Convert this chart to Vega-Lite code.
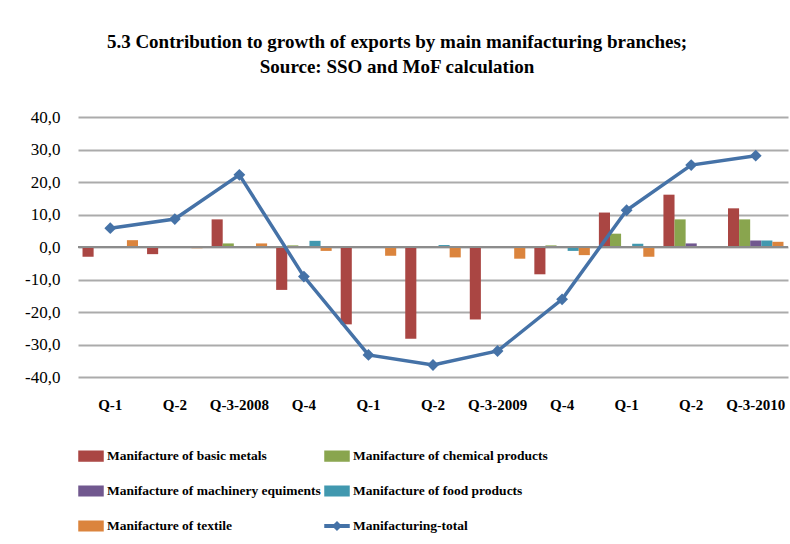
{
  "$schema": "https://vega.github.io/schema/vega-lite/v6.json",
  "autosize": "none",
  "padding": {"left": 78, "top": 117, "right": 2, "bottom": 167},
  "width": 710,
  "height": 260,
  "background": "white",
  "title": {
    "text": ["5.3 Contribution  to growth of exports by  main  manifacturing  branches;", "Source: SSO and MoF calculation"],
    "font": "Liberation Serif",
    "fontSize": 19,
    "fontWeight": "bold",
    "color": "black",
    "lineHeight": 25,
    "anchor": "middle",
    "frame": "group",
    "dx": -36,
    "offset": 31
  },
  "datasets": {
    "bars": [
      {"period": "Q-1|2008", "series": "Manifacture of basic metals", "value": -3.0},
      {"period": "Q-2|2008", "series": "Manifacture of basic metals", "value": -2.2},
      {"period": "Q-3-2008|2008", "series": "Manifacture of basic metals", "value": 8.5},
      {"period": "Q-4|2008", "series": "Manifacture of basic metals", "value": -13.2},
      {"period": "Q-1|2009", "series": "Manifacture of basic metals", "value": -23.8},
      {"period": "Q-2|2009", "series": "Manifacture of basic metals", "value": -28.2},
      {"period": "Q-3-2009|2009", "series": "Manifacture of basic metals", "value": -22.3},
      {"period": "Q-4|2009", "series": "Manifacture of basic metals", "value": -8.4},
      {"period": "Q-1|2010", "series": "Manifacture of basic metals", "value": 10.6},
      {"period": "Q-2|2010", "series": "Manifacture of basic metals", "value": 16.1},
      {"period": "Q-3-2010|2010", "series": "Manifacture of basic metals", "value": 11.9},
      {"period": "Q-1|2008", "series": "Manifacture of chemical products", "value": 0.0},
      {"period": "Q-2|2008", "series": "Manifacture of chemical products", "value": 0.0},
      {"period": "Q-3-2008|2008", "series": "Manifacture of chemical products", "value": 1.1},
      {"period": "Q-4|2008", "series": "Manifacture of chemical products", "value": 0.5},
      {"period": "Q-1|2009", "series": "Manifacture of chemical products", "value": -0.3},
      {"period": "Q-2|2009", "series": "Manifacture of chemical products", "value": -0.3},
      {"period": "Q-3-2009|2009", "series": "Manifacture of chemical products", "value": -0.3},
      {"period": "Q-4|2009", "series": "Manifacture of chemical products", "value": 0.5},
      {"period": "Q-1|2010", "series": "Manifacture of chemical products", "value": 4.1},
      {"period": "Q-2|2010", "series": "Manifacture of chemical products", "value": 8.5},
      {"period": "Q-3-2010|2010", "series": "Manifacture of chemical products", "value": 8.5},
      {"period": "Q-1|2008", "series": "Manifacture of machinery equiments", "value": 0.0},
      {"period": "Q-2|2008", "series": "Manifacture of machinery equiments", "value": -0.3},
      {"period": "Q-3-2008|2008", "series": "Manifacture of machinery equiments", "value": -0.3},
      {"period": "Q-4|2008", "series": "Manifacture of machinery equiments", "value": 0.1},
      {"period": "Q-1|2009", "series": "Manifacture of machinery equiments", "value": -0.3},
      {"period": "Q-2|2009", "series": "Manifacture of machinery equiments", "value": -0.2},
      {"period": "Q-3-2009|2009", "series": "Manifacture of machinery equiments", "value": -0.3},
      {"period": "Q-4|2009", "series": "Manifacture of machinery equiments", "value": -0.3},
      {"period": "Q-1|2010", "series": "Manifacture of machinery equiments", "value": -0.3},
      {"period": "Q-2|2010", "series": "Manifacture of machinery equiments", "value": 1.1},
      {"period": "Q-3-2010|2010", "series": "Manifacture of machinery equiments", "value": 2.0},
      {"period": "Q-1|2008", "series": "Manifacture of food products", "value": 0.0},
      {"period": "Q-2|2008", "series": "Manifacture of food products", "value": -0.3},
      {"period": "Q-3-2008|2008", "series": "Manifacture of food products", "value": 0.0},
      {"period": "Q-4|2008", "series": "Manifacture of food products", "value": 1.9},
      {"period": "Q-1|2009", "series": "Manifacture of food products", "value": -0.3},
      {"period": "Q-2|2009", "series": "Manifacture of food products", "value": 0.6},
      {"period": "Q-3-2009|2009", "series": "Manifacture of food products", "value": -0.3},
      {"period": "Q-4|2009", "series": "Manifacture of food products", "value": -1.2},
      {"period": "Q-1|2010", "series": "Manifacture of food products", "value": 1.0},
      {"period": "Q-2|2010", "series": "Manifacture of food products", "value": -0.3},
      {"period": "Q-3-2010|2010", "series": "Manifacture of food products", "value": 2.0},
      {"period": "Q-1|2008", "series": "Manifacture of textile", "value": 2.1},
      {"period": "Q-2|2008", "series": "Manifacture of textile", "value": -0.4},
      {"period": "Q-3-2008|2008", "series": "Manifacture of textile", "value": 1.1},
      {"period": "Q-4|2008", "series": "Manifacture of textile", "value": -1.2},
      {"period": "Q-1|2009", "series": "Manifacture of textile", "value": -2.7},
      {"period": "Q-2|2009", "series": "Manifacture of textile", "value": -3.2},
      {"period": "Q-3-2009|2009", "series": "Manifacture of textile", "value": -3.6},
      {"period": "Q-4|2009", "series": "Manifacture of textile", "value": -2.5},
      {"period": "Q-1|2010", "series": "Manifacture of textile", "value": -3.0},
      {"period": "Q-2|2010", "series": "Manifacture of textile", "value": 0.0},
      {"period": "Q-3-2010|2010", "series": "Manifacture of textile", "value": 1.6}
    ],
    "total": [
      {"period": "Q-1|2008", "value": 5.8},
      {"period": "Q-2|2008", "value": 8.6},
      {"period": "Q-3-2008|2008", "value": 22.2},
      {"period": "Q-4|2008", "value": -9.1},
      {"period": "Q-1|2009", "value": -33.2},
      {"period": "Q-2|2009", "value": -36.3},
      {"period": "Q-3-2009|2009", "value": -32.0},
      {"period": "Q-4|2009", "value": -16.1},
      {"period": "Q-1|2010", "value": 11.3},
      {"period": "Q-2|2010", "value": 25.2},
      {"period": "Q-3-2010|2010", "value": 28.1}
    ],
    "zero": [{"value": 0}]
  },
  "encoding": {
    "y": {
      "field": "value",
      "type": "quantitative",
      "scale": {"domain": [-40, 40], "nice": false},
      "axis": {
        "title": null,
        "values": [-40, -30, -20, -10, 0, 10, 20, 30, 40],
        "labelExpr": "(datum.value < 0 ? '-' : '') + replace(format(abs(datum.value), '.1f'), '.', ',')",
        "labelFont": "Liberation Serif",
        "labelFontSize": 17,
        "labelColor": "black",
        "labelPadding": 18,
        "labelOverlap": false,
        "ticks": false,
        "domain": false,
        "grid": true,
        "gridWidth": 2,
        "gridColor": "#ababab",
        "gridOpacity": 1
      }
    }
  },
  "layer": [
    {
      "data": {"name": "bars"},
      "mark": {"type": "bar"},
      "encoding": {
        "x": {
          "field": "period",
          "type": "nominal",
          "sort": null,
          "scale": {"paddingInner": 0.14, "paddingOuter": 0.07},
          "axis": {
            "title": null,
            "labelExpr": "split(datum.value, '|')[0]",
            "labelAngle": 0,
            "labelFont": "Liberation Serif",
            "labelFontSize": 15,
            "labelFontWeight": "bold",
            "labelColor": "black",
            "labelPadding": 20,
            "labelOverlap": false,
            "ticks": false,
            "domain": false,
            "grid": false
          }
        },
        "xOffset": {"field": "series", "type": "nominal", "sort": null,
          "scale": {"domain": ["Manifacture of basic metals", "Manifacture of chemical products", "Manifacture of machinery equiments", "Manifacture of food products", "Manifacture of textile"], "paddingInner": 0, "paddingOuter": 0}},
        "color": {
          "field": "series",
          "type": "nominal",
          "scale": {
            "domain": ["Manifacture of basic metals", "Manifacture of chemical products", "Manifacture of machinery equiments", "Manifacture of food products", "Manifacture of textile", "Manifacturing-total"],
            "range": ["#AA4643", "#89A54E", "#71588F", "#4198AF", "#DB843D", "#4572A7"]
          },
          "legend": {
            "orient": "none",
            "legendX": 0,
            "legendY": 326,
            "direction": "horizontal",
            "columns": 2,
            "title": null,
            "symbolSize": 576,
            "symbolType": "M-1,-0.4H1V0.4H-1Z",
            "labelFont": "Liberation Serif",
            "labelFontSize": 13.5,
            "labelFontWeight": "bold",
            "labelColor": "black",
            "labelOffset": 3,
            "labelLimit": 400,
            "rowPadding": 14,
            "columnPadding": 1,
            "encode": {
              "symbols": {
                "update": {
                  "shape": {"signal": "datum.value === 'Manifacturing-total' ? 'M-1,-0.1H1V0.1H-1Z M0,-0.33L0.33,0L0,0.33L-0.33,0Z' : 'M-1,-0.4H1V0.4H-1Z'"},
                  "fill": {"scale": "color", "field": "value"},
                  "stroke": {"value": "transparent"},
                  "opacity": {"value": 1}
                }
              }
            }
          }
        }
      }
    },
    {
      "data": {"name": "zero"},
      "mark": {"type": "rule", "color": "#8c8c8c", "strokeWidth": 2},
      "encoding": {}
    },
    {
      "data": {"name": "total"},
      "mark": {"type": "line", "strokeWidth": 3.5, "point": {"shape": "diamond", "size": 140, "filled": true}},
      "encoding": {
        "x": {"field": "period", "type": "nominal", "sort": null},
        "color": {"datum": "Manifacturing-total"}
      }
    }
  ],
  "config": {
    "view": {"stroke": null}
  }
}
